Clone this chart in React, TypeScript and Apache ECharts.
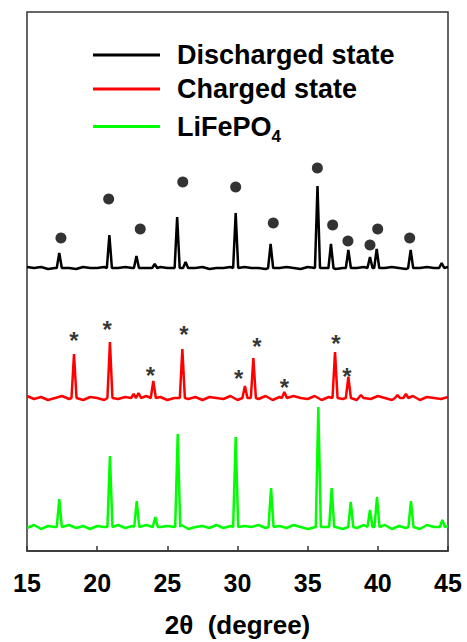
import React, { useEffect, useRef } from "react";
import * as echarts from "echarts";

// ---- data ----
const xTicks = [15, 20, 25, 30, 35, 40, 45];
const seriesNames = ["Discharged state", "Charged state", "LiFePO4"];
const seriesColors = ["#000000", "#ff0000", "#00ff00"];
// vertical offset of each stacked pattern (intensity units above the x axis)
const offsets = [283, 153, 24];

// baseline noise, one value every 0.5 degree from 15 to 45
const noiseStart = 15;
const noiseStep = 0.5;
const blackNoise = [
  1, 0, 1, -1, 0, 1, 0, -1, 1, 0,
  0, 1, -1, 0, 1, 0, -1, 0, 1, 1,
  0, -1, 0, 1, 0, 1, -1, 0, 0, 1,
  -1, 1, 0, 0, -1, 1, 0, 1, 0, -1,
  1, 0, 0, 1, -1, 0, 1, 0, 1, -1,
  0, 0, 1, 0, -1, 1, 0, 1, 0, -1,
  1,
];
const redNoise = [
  2, -1, 1, -2, 0, 2, -1, 1, -2, 1,
  0, -2, 2, -1, 1, 0, -2, 2, -1, 1,
  -2, 0, 2, -1, 1, -2, 1, 0, -1, 2,
  -2, 1, 0, -1, 2, -2, 1, -1, 2, 0,
  -1, 2, -2, 1, 0, -1, 2, -2, 1, -1,
  2, 0, -2, 1, -1, 2, -2, 1, 0, -1,
  1,
];
const greenNoise = [
  -1, 2, -2, 1, 0, -1, 2, -1, 1, -2,
  1, 0, -2, 2, -1, 1, -1, 2, -2, 0,
  1, -1, 2, -2, 0, 1, -1, 2, -1, 1,
  -2, 1, 0, 2, -1, -2, 1, -1, 2, 0,
  -2, 1, -1, 2, 0, -2, 1, -1, 2, -1,
  0, 2, -2, 1, -1, 1, -2, 2, 0, -1,
  1,
];

// peaks: [2theta, height above the pattern's baseline]
const blackPeaks: [number, number][] = [
  [17.3, 15], [20.87, 33], [22.8, 12], [24.1, 4], [25.7, 51], [26.3, 6],
  [29.87, 55], [32.36, 24], [35.7, 82], [36.66, 24], [37.9, 18],
  [39.44, 11], [39.92, 19], [42.34, 18], [44.55, 5],
];
const redPeaks: [number, number][] = [
  [18.35, 44], [20.91, 56], [22.6, 4], [22.95, 5], [24.0, 17], [26.07, 49],
  [30.53, 12], [31.13, 40], [33.34, 6], [36.95, 46], [37.9, 21],
  [38.8, 3], [41.4, 3], [42.0, 4],
];
const greenPeaks: [number, number][] = [
  [17.3, 28], [20.91, 71], [22.82, 26], [24.14, 10], [25.74, 93],
  [29.87, 90], [32.39, 39], [35.76, 120], [36.71, 39], [38.07, 25],
  [39.44, 17], [39.94, 30], [42.36, 26], [44.6, 7],
];

// markers above peaks: [2theta, y]
const dotMarks: [number, number][] = [
  [17.42, 313], [20.82, 352], [23.07, 322], [26.1, 369], [29.87, 364],
  [32.55, 328], [35.69, 383], [36.78, 326], [37.87, 310], [39.44, 306],
  [39.99, 322], [42.27, 313],
];
const starMarks: [number, number][] = [
  [18.35, 216], [20.72, 227], [23.79, 181], [26.19, 222], [30.09, 178],
  [31.39, 210], [33.34, 169], [37.02, 213], [37.8, 180],
];

const FONT = "Arial, 'Liberation Sans', Helvetica, sans-serif";

function buildLine(peaks: [number, number][], noise: number[], offset: number) {
  const hw = 0.18;
  const pts: number[][] = [];
  noise.forEach((n, i) => {
    const x = noiseStart + i * noiseStep;
    if (peaks.some(([p]) => Math.abs(x - p) < hw + 0.08)) return;
    pts.push([x, offset + n]);
  });
  peaks.forEach(([p, h]) => {
    pts.push([p - hw, offset]);
    pts.push([p, offset + h]);
    pts.push([p + hw, offset]);
  });
  pts.sort((a, b) => a[0] - b[0]);
  return pts;
}

export default function App() {
  const ref = useRef<HTMLDivElement>(null);
  useEffect(() => {
    if (!ref.current) return;
    const chart = echarts.init(ref.current, undefined, { renderer: "svg" });
    const lines = [
      buildLine(blackPeaks, blackNoise, offsets[0]),
      buildLine(redPeaks, redNoise, offsets[1]),
      buildLine(greenPeaks, greenNoise, offsets[2]),
    ];
    chart.setOption({
      animation: false,
      backgroundColor: "#ffffff",
      grid: {
        left: 27,
        right: 19,
        top: 12,
        bottom: 91,
        containLabel: false,
        outerBoundsMode: "none",
        show: true,
        borderColor: "#333",
        borderWidth: 1.5,
        backgroundColor: "transparent",
      },
      legend: {
        data: seriesNames,
        orient: "vertical",
        left: 93,
        top: 40,
        padding: 0,
        icon: "rect",
        itemWidth: 67,
        itemHeight: 3,
        itemGap: 4,
        textStyle: {
          fontFamily: FONT,
          fontSize: 27,
          fontWeight: "bold",
          color: "#000",
          lineHeight: 30,
          padding: [0, 0, 0, 12],
          rich: {
            s: {
              fontFamily: FONT,
              fontSize: 17,
              fontWeight: "bold",
              color: "#000",
              lineHeight: 17,
              padding: [20, 0, 0, 0],
            },
          },
        },
        formatter: (name: string) => (name === "LiFePO4" ? "LiFePO{s|4}" : name),
      },
      xAxis: {
        type: "value",
        min: 15,
        max: 45,
        interval: 5,
        name: "2θ  (degree)",
        nameLocation: "middle",
        nameGap: 61,
        nameTextStyle: { fontFamily: FONT, fontSize: 26, fontWeight: "bold", color: "#000" },
        axisLine: { show: true, lineStyle: { color: "#333", width: 1.5 } },
        axisTick: { show: true, inside: true, length: 5, lineStyle: { color: "#333", width: 1.5 } },
        axisLabel: {
          fontFamily: FONT,
          fontSize: 25,
          fontWeight: "bold",
          color: "#000",
          margin: 19,
          formatter: (v: number) => (xTicks.includes(v) ? String(v) : ""),
        },
        splitLine: { show: false },
      },
      yAxis: {
        type: "value",
        min: 0,
        max: 539,
        show: false,
        splitLine: { show: false },
      },
      series: [
        ...lines.map((d, i) => ({
          name: seriesNames[i],
          type: "line",
          data: d,
          showSymbol: false,
          symbol: "none",
          color: seriesColors[i],
          lineStyle: { color: seriesColors[i], width: 2.5 },
          z: 3 - i,
        })),
        {
          name: "dots",
          type: "scatter",
          data: dotMarks,
          symbol: "circle",
          symbolSize: 11,
          itemStyle: { color: "#000" },
          z: 5,
        },
        {
          name: "stars",
          type: "scatter",
          data: starMarks,
          symbol: "circle",
          symbolSize: 1,
          itemStyle: { color: "transparent" },
          label: {
            show: true,
            formatter: "*",
            position: "inside",
            fontFamily: FONT,
            fontSize: 24,
            fontWeight: "bold",
            color: "#000",
            offset: [0, 5],
          },
          z: 5,
        },
      ],
    });
    return () => chart.dispose();
  }, []);
  return (
    <div
      ref={ref}
      style={{ position: "fixed", left: 0, top: 0, width: 467, height: 642, background: "#fff" }}
    />
  );
}
